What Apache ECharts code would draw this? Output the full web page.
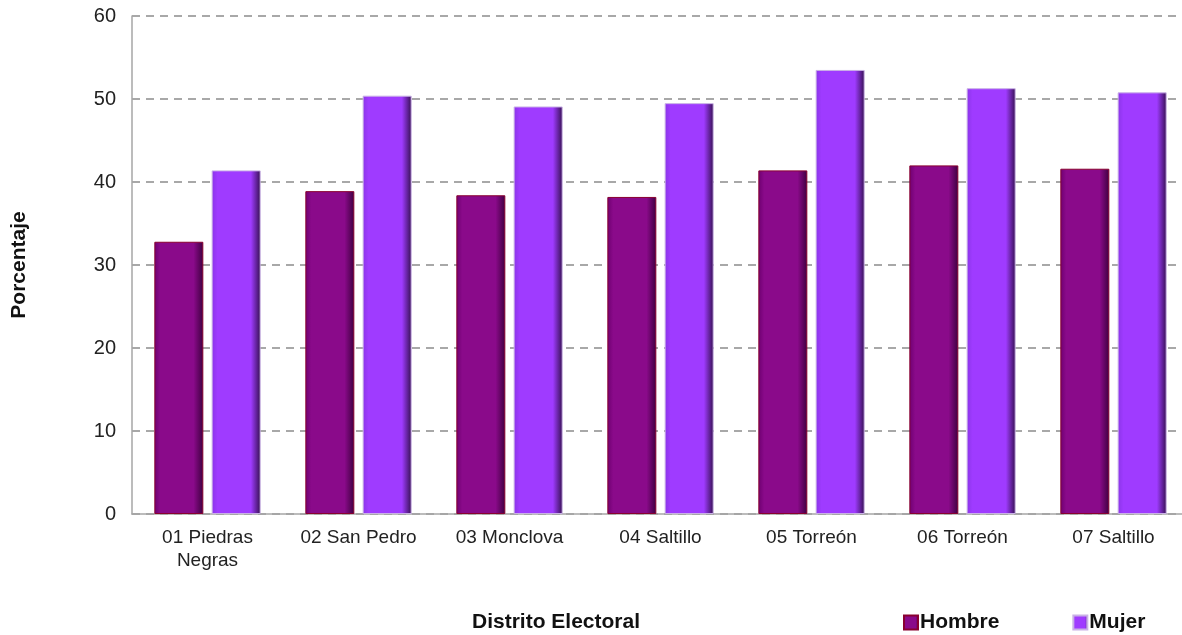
<!DOCTYPE html>
<html>
<head>
<meta charset="utf-8">
<script src="https://cdn.jsdelivr.net/npm/echarts@6/dist/echarts.min.js"></script>
<style>html,body{margin:0;padding:0;background:#fff}#c{width:1182px;height:635px}</style>
</head>
<body>
<div id="c"></div>
<script>
var categories = ['01 Piedras\nNegras', '02 San Pedro', '03 Monclova', '04 Saltillo', '05 Torreón', '06 Torreón', '07 Saltillo'];
var hombre = [32.8, 38.9, 38.4, 38.2, 41.4, 42.0, 41.6];
var mujer = [41.4, 50.4, 49.1, 49.5, 53.5, 51.3, 50.8];
var yTicks = [0, 10, 20, 30, 40, 50, 60];

function grad(edge, base, dark) {
  return new echarts.graphic.LinearGradient(0, 0, 1, 0, [
    {offset: 0, color: edge},
    {offset: 0.12, color: base},
    {offset: 0.8, color: base},
    {offset: 1, color: dark}
  ]);
}
var chart = echarts.init(document.getElementById('c'));
chart.setOption({
  animation: false,
  textStyle: {fontFamily: 'Liberation Sans, Arial, sans-serif'},
  grid: {left: 132, width: 1057, top: 16, height: 498, containLabel: false, outerBoundsMode: 'none'},
  legend: {
    left: 898, top: 607, itemWidth: 14, itemHeight: 14, itemGap: 73,
    icon: 'rect',
    textStyle: {fontSize: 21, fontWeight: 'bold', color: '#111', padding: [0,0,0,-3]},
    data: ['Hombre', 'Mujer']
  },
  graphic: [{
    type: 'text', x: 556, y: 622,
    style: {text: 'Distrito Electoral', fontSize: 21, fontWeight: 'bold', fill: '#111',
      fontFamily: 'Liberation Sans, Arial, sans-serif', textAlign: 'center', textVerticalAlign: 'middle'}
  }],
  xAxis: {
    type: 'category', data: categories,
    axisLine: {lineStyle: {color: '#a6a6a6', width: 1.5}},
    axisTick: {show: false},
    axisLabel: {fontSize: 19, color: '#222', margin: 12, lineHeight: 23, interval: 0}
  },
  yAxis: {
    type: 'value', min: 0, max: 60, interval: 10,
    name: 'Porcentaje', nameLocation: 'middle', nameGap: 102, nameRotate: 90,
    nameTextStyle: {fontSize: 21, fontWeight: 'bold', color: '#111'},
    axisLine: {show: true, lineStyle: {color: '#a6a6a6', width: 1.5}},
    axisTick: {show: false},
    axisLabel: {fontSize: 20, color: '#222', margin: 16,
      formatter: function (v) { return yTicks.indexOf(v) >= 0 ? String(v) : ''; }},
    splitLine: {lineStyle: {color: '#8c8c8c', type: [8, 6], width: 1.5}}
  },
  series: [
    {name: 'Hombre', type: 'bar', data: hombre, barWidth: 49, barGap: '17%',
     itemStyle: {color: grad('#6e0070', '#8a0a8a', '#3e003f'), borderColor: '#8a0030', borderWidth: 1}},
    {name: 'Mujer', type: 'bar', data: mujer, barWidth: 49,
     itemStyle: {color: grad('#8a35e8', '#9f3bff', '#35104f'), borderColor: '#c9b0e6', borderWidth: 1}}
  ]
});
</script>
</body>
</html>
